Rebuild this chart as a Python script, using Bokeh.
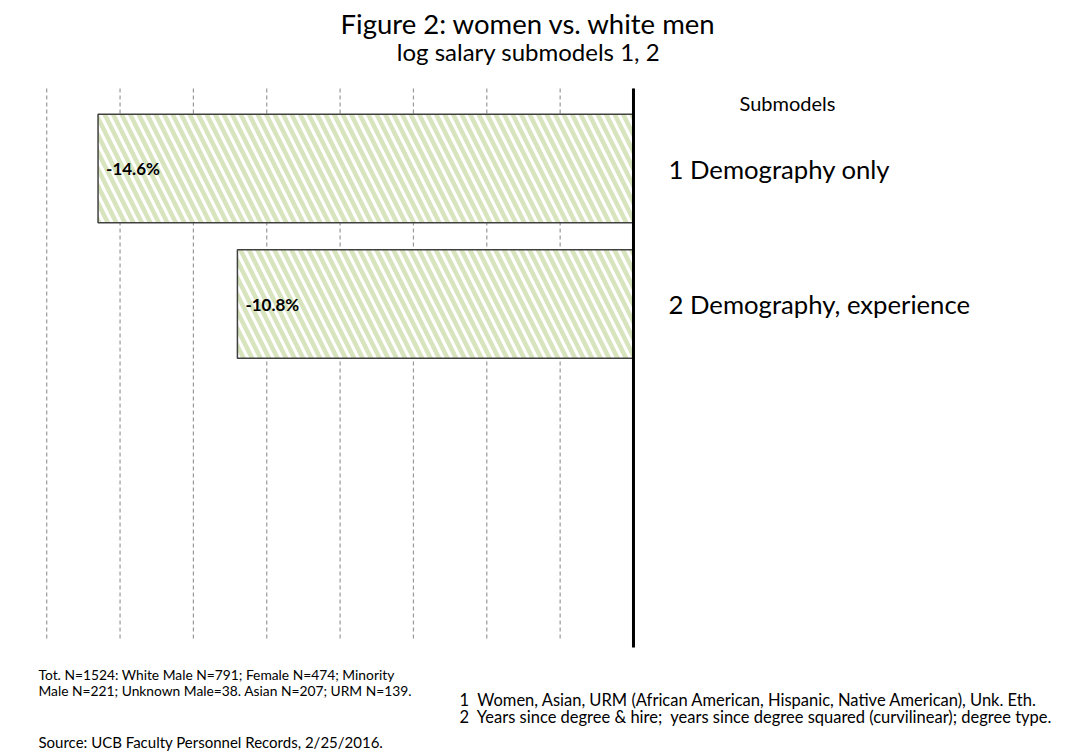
from bokeh.plotting import figure
from bokeh.models import Range1d, Label
from bokeh.embed import file_html
from bokeh.resources import INLINE
from bokeh.core.properties import value

# Salary gap of women vs. white men (log salary), by submodel
submodels = [1, 2]
gaps = [-14.6, -10.8]
gap_labels = ["-14.6%", "-10.8%"]
submodel_names = ["1 Demography only", "2 Demography, experience"]
grid_ticks = [-16, -14, -12, -10, -8, -6, -4, -2, 0]

W, H = 1065, 752
FONT = "Lato"
NBSP = "\u00a0"

p = figure(width=W, height=H, output_backend="svg", toolbar_location=None,
           x_range=Range1d(-17.26, 11.78), y_range=Range1d(5.31, -0.24),
           x_axis_location=None, y_axis_location=None,
           min_border=0, outline_line_color=None, background_fill_color="white")
p.grid.visible = False

# dashed vertical gridlines
n = len(grid_ticks)
p.segment(x0=grid_ticks, y0=[0.41] * n, x1=grid_ticks, y1=[4.48] * n,
          line_color="#999999", line_width=1.2, line_dash="4 3")

# hatched bars
p.hbar(y=submodels, left=gaps, right=0, height=0.8,
       fill_color="white", line_color="#404040", line_width=1.5,
       hatch_pattern="left_diagonal_line", hatch_color="#d7e4bd",
       hatch_weight=4.5, hatch_scale=17)

# zero axis line
p.segment(x0=[0], y0=[0.41], x1=[0], y1=[4.535], line_color="black", line_width=3)

# value labels inside bars
p.text(x=gaps, y=submodels, text=gap_labels, x_offset=8,
       text_font=value(FONT), text_font_size="17px", text_font_style="bold",
       text_baseline="middle", text_align="left", text_color="black")


def screen_label(txt, x, y_top, size, align="left", style="normal", y_data=None):
    if y_data is None:
        lab = Label(x=x, y=H - y_top, x_units="screen", y_units="screen", text=txt,
                    text_font=FONT, text_font_size=size, text_align=align,
                    text_baseline="middle", text_font_style=style, text_color="black")
    else:
        lab = Label(x=x, y=y_data, x_units="screen", y_units="data", text=txt,
                    text_font=FONT, text_font_size=size, text_align=align,
                    text_baseline="middle", text_font_style=style, text_color="black")
    p.add_layout(lab)


screen_label("Figure 2: women vs. white men", 528, 23, "27.5px", align="center")
screen_label("log salary submodels 1, 2", 528, 51, "24px", align="center")
screen_label("Submodels", 787, 102, "20px", align="center")
for s, name in zip(submodels, submodel_names):
    screen_label(name, 668, None, "25.7px", y_data=s)

screen_label("Tot. N=1524: White Male N=791; Female N=474; Minority", 38, 674, "13.8px")
screen_label("Male N=221; Unknown Male=38. Asian N=207; URM N=139.", 38, 690, "13.8px")
screen_label("Source: UCB Faculty Personnel Records, 2/25/2016.", 38, 741, "15px")
screen_label("1 " + NBSP + "Women, Asian, URM (African American, Hispanic, Native American), Unk. Eth.",
             459, 699, "16.5px")
screen_label("2 " + NBSP + "Years since degree & hire; " + NBSP
             + "years since degree squared (curvilinear); degree type.", 459, 716, "16.5px")

open("out.html", "w").write(file_html(p, INLINE))
